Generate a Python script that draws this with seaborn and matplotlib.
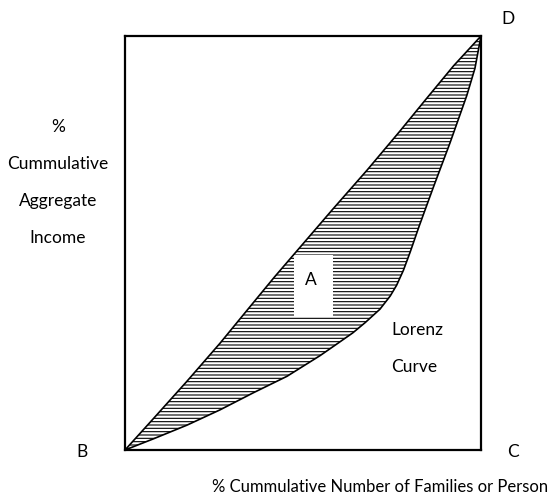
import numpy as np
import pandas as pd
import seaborn as sns
import matplotlib.pyplot as plt
from matplotlib.patches import Rectangle

# equality line (hand drawn, nearly straight)
upper_x = [0, 8.0, 17.4, 26.7, 35.1, 42.0, 49.2, 58.4, 68.0, 77.2, 84.8, 92.3, 100]
upper_y = [0, 7.6, 16.6, 25.8, 34.6, 41.8, 49.0, 58.2, 67.6, 77.0, 85.0, 92.8, 100]

# Lorenz curve
lorenz_x = [0, 8.0, 17.4, 26.7, 36.0, 45.5, 54.8, 59.5, 64.0, 67.5, 71.6, 74.5, 76.3,
            78.2, 80.1, 82.6, 86.5, 91.3, 96.0, 98.3, 100]
lorenz_y = [0, 2.7, 6.0, 9.7, 13.8, 17.8, 22.8, 25.6, 28.3, 30.8, 34.0, 37.2, 39.8,
            43.4, 47.8, 54.0, 63.2, 74.2, 85.6, 92.2, 100]

corner_labels = ['B', 'C', 'D']
y_label_lines = ['%', 'Cummulative', 'Aggregate', 'Income']
x_label = '% Cummulative Number of Families or Person'

sns.set_style('white')
plt.rcParams['font.family'] = ['Lato', 'DejaVu Sans']
plt.rcParams['text.color'] = 'black'
plt.rcParams['hatch.linewidth'] = 0.8
plt.rcParams['hatch.color'] = 'black'

fig = plt.figure(figsize=(5.52, 5.01), dpi=100)
ax = fig.add_axes([125 / 552, 51 / 501, 356 / 552, 414 / 501])

# shaded area between the two curves
ax.fill(np.r_[upper_x, lorenz_x[::-1]], np.r_[upper_y, lorenz_y[::-1]],
        facecolor='white', edgecolor='black', hatch='-----', linewidth=0, zorder=1)

df_up = pd.DataFrame({'x': upper_x, 'y': upper_y})
df_lo = pd.DataFrame({'x': lorenz_x, 'y': lorenz_y})
sns.lineplot(data=df_up, x='x', y='y', sort=False, estimator=None, color='black', lw=1.2, ax=ax, zorder=3)
sns.lineplot(data=df_lo, x='x', y='y', sort=False, estimator=None, color='black', lw=1.2, ax=ax, zorder=3)

fs = 12.5
# white patch for label A
ax.add_patch(Rectangle((47.5, 32.1), 10.9, 15.0, facecolor='white', edgecolor='none', zorder=2))
ax.text(52.2, 41.1, 'A', ha='center', va='center', fontsize=fs, zorder=4)
ax.text(74.7, 29.0, 'Lorenz', ha='left', va='center', fontsize=fs)
ax.text(74.7, 20.1, 'Curve', ha='left', va='center', fontsize=fs)

ax.set_xlim(0, 100)
ax.set_ylim(0, 100)
ax.set_xticks([])
ax.set_yticks([])
ax.set_xlabel('')
ax.set_ylabel('')
for s in ax.spines.values():
    s.set_linewidth(1.6)
    s.set_color('black')

# corner letters and outer labels (figure pixels)
def fig_text(px, py, s, size=fs, ha='center'):
    return fig.text(px / 552, 1 - py / 501, s, ha=ha, va='center', fontsize=size)

fig_text(82, 452, corner_labels[0])
fig_text(513, 452, corner_labels[1])
fig_text(508, 19, corner_labels[2])
for i, line in enumerate(y_label_lines):
    fig_text(58, 127 + 37 * i, line)
fig_text(212, 487, x_label, size=12, ha='left')

fig.savefig('out.png', dpi=100)
